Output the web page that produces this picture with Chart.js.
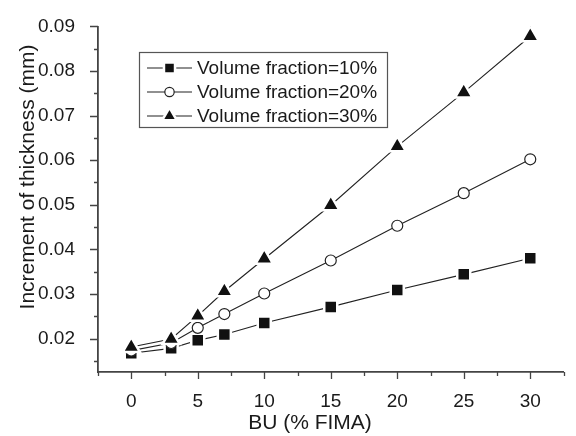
<!DOCTYPE html>
<html>
<head>
<meta charset="utf-8">
<script src="https://cdn.jsdelivr.net/npm/chart.js@4/dist/chart.umd.min.js"></script>
<style>
  body { margin: 0; background: #fff; }
</style>
</head>
<body>
<canvas id="thicknessChart" width="576" height="436"></canvas>
<script>
// data
const burnup = [0, 3, 5, 7, 10, 15, 20, 25, 30]
const vf10 = [0.0167, 0.0178, 0.0196, 0.0209, 0.0235, 0.0271, 0.0309, 0.0344, 0.0380]
const vf20 = [0.0173, 0.0190, 0.0224, 0.0255, 0.0301, 0.0375, 0.0453, 0.0526, 0.0602]
const vf30 = [0.0181, 0.0199, 0.0251, 0.0306, 0.0379, 0.0499, 0.0631, 0.0752, 0.0878]
const seriesNames = ['Volume fraction=10%', 'Volume fraction=20%', 'Volume fraction=30%']
const xTickLabels = ['0', '5', '10', '15', '20', '25', '30']
const yTickLabels = ['0.02', '0.03', '0.04', '0.05', '0.06', '0.07', '0.08', '0.09']
const xTitle = 'BU (% FIMA)'
const yTitle = 'Increment of thickness (mm)'

const FONT = '"Liberation Sans", Arial, Helvetica, sans-serif'
const INK = '#1a1a1a'
const AXIS = '#444'

function toPoints(ys) {
  return burnup.map((x, i) => ({ x: x, y: ys[i] }))
}

// major + minor tick positions (minor halfway between labels)
function xTickValues() {
  let out = []
  for (let i = -1; i <= 13; i++) out.push(i * 2.5)
  return out
}
function yTickValues() {
  let out = []
  for (let i = 3; i <= 18; i++) out.push(i * 0.005)
  return out
}
function isMajorX(v) { return Math.abs(v / 5 - Math.round(v / 5)) < 1e-6 }
function isMajorY(v) { return Math.abs(v * 100 - Math.round(v * 100)) < 1e-6 }

const markerStyles = [
  { pointStyle: 'rect', radius: 9.2, bg: '#111', border: '#fff', bw: 2.5 },
  { pointStyle: 'circle', radius: 5.5, bg: '#fff', border: '#222', bw: 1.2 },
  { pointStyle: 'triangle', radius: 10, bg: '#111', border: '#fff', bw: 2.5 },
]

const datasets = [vf10, vf20, vf30].map((ys, i) => ({
  label: seriesNames[i],
  data: toPoints(ys),
  borderColor: '#222',
  borderWidth: 1.1,
  tension: 0,
  pointStyle: markerStyles[i].pointStyle,
  pointRadius: markerStyles[i].radius,
  pointBackgroundColor: markerStyles[i].bg,
  pointBorderColor: markerStyles[i].border,
  pointBorderWidth: markerStyles[i].bw,
  order: 3 - i,
}))

// outward tick marks, long for labelled values, short for the rest
const tickMarks = {
  id: 'tickMarks',
  afterDraw(chart) {
    const ctx = chart.ctx
    const xs = chart.scales.x
    const ys = chart.scales.y
    const area = chart.chartArea
    ctx.save()
    ctx.strokeStyle = AXIS
    ctx.lineWidth = 1.3
    ctx.beginPath()
    xs.ticks.forEach(t => {
      const px = Math.round(xs.getPixelForValue(t.value)) + 0.5
      const len = isMajorX(t.value) ? 7 : 4
      ctx.moveTo(px, area.bottom)
      ctx.lineTo(px, area.bottom + len)
    })
    ys.ticks.forEach(t => {
      const py = Math.round(ys.getPixelForValue(t.value)) + 0.5
      const len = isMajorY(t.value) ? 8 : 4
      ctx.moveTo(area.left, py)
      ctx.lineTo(area.left - len, py)
    })
    ctx.stroke()
    ctx.restore()
  }
}

// axis titles placed where the original has them
const axisTitles = {
  id: 'axisTitles',
  afterDraw(chart) {
    const ctx = chart.ctx
    ctx.save()
    ctx.fillStyle = INK
    ctx.font = '21px ' + FONT
    ctx.textAlign = 'center'
    ctx.textBaseline = 'middle'
    ctx.fillText(xTitle, 310, 423)
    ctx.translate(28, 177)
    ctx.rotate(-Math.PI / 2)
    ctx.fillText(yTitle, 0, 0)
    ctx.restore()
  }
}

// boxed legend with line-marker-line symbols
const boxLegend = {
  id: 'boxLegend',
  afterDraw(chart) {
    const ctx = chart.ctx
    ctx.save()
    ctx.strokeStyle = '#555'
    ctx.lineWidth = 1.2
    ctx.strokeRect(139.5, 52.5, 248, 75)
    chart.data.datasets.forEach((ds, i) => {
      const y = 68 + i * 24
      const ms = markerStyles[i]
      ctx.strokeStyle = '#222'
      ctx.lineWidth = 1.1
      ctx.beginPath()
      ctx.moveTo(147, y)
      ctx.lineTo(192, y)
      ctx.stroke()
      ctx.fillStyle = ms.bg
      ctx.strokeStyle = ms.border
      ctx.lineWidth = ms.bw
      Chart.helpers.drawPoint(ctx, {
        pointStyle: ms.pointStyle,
        radius: ms.radius * 0.85,
        rotation: 0,
        borderWidth: ms.bw
      }, 169.5, y)
      ctx.fillStyle = INK
      ctx.font = '19px ' + FONT
      ctx.textAlign = 'left'
      ctx.textBaseline = 'middle'
      ctx.fillText(ds.label, 197, y + 1)
    })
    ctx.restore()
  }
}

const ctx = document.getElementById('thicknessChart').getContext('2d')
let thicknessChart = new Chart(ctx, {
  type: 'line',
  data: { datasets: datasets },
  options: {
    responsive: false,
    animation: false,
    events: [],
    layout: { padding: { left: 0, top: 19, right: 2, bottom: 0 } },
    plugins: {
      legend: { display: false },
      tooltip: { enabled: false },
    },
    scales: {
      x: {
        type: 'linear',
        min: -2.5,
        max: 32.5,
        afterBuildTicks: (scale) => { scale.ticks = xTickValues().map(v => ({ value: v })) },
        afterFit: (scale) => { scale.height = 64 },
        grid: { display: false },
        border: { display: true, color: AXIS, width: 1.8 },
        ticks: {
          autoSkip: false,
          maxRotation: 0,
          padding: 10,
          color: INK,
          font: { family: FONT, size: 19 },
          callback: (v) => {
            if (!isMajorX(v) || v < 0 || v > 30) return ''
            return xTickLabels[Math.round(v / 5)]
          }
        },
        title: { display: false }
      },
      y: {
        min: 0.0125,
        max: 0.09,
        afterBuildTicks: (scale) => { scale.ticks = yTickValues().map(v => ({ value: v })) },
        afterFit: (scale) => { scale.width = 98 },
        grid: { display: false },
        border: { display: true, color: AXIS, width: 1.8 },
        ticks: {
          autoSkip: false,
          padding: 15,
          color: INK,
          font: { family: FONT, size: 19 },
          callback: (v) => {
            if (!isMajorY(v)) return ''
            return yTickLabels[Math.round(v * 100) - 2]
          }
        },
        title: { display: false }
      }
    }
  },
  plugins: [tickMarks, axisTitles, boxLegend]
})
</script>
</body>
</html>
